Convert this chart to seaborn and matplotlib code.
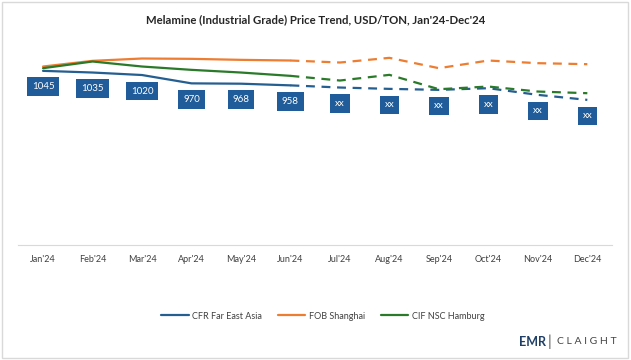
import pandas as pd
import seaborn as sns
import matplotlib.pyplot as plt
from matplotlib.patches import Rectangle

# Dados
months = ["Jan'24", "Feb'24", "Mar'24", "Apr'24", "May'24", "Jun'24",
          "Jul'24", "Aug'24", "Sep'24", "Oct'24", "Nov'24", "Dec'24"]
cfr_far_east = [1045, 1035, 1020, 970, 968, 958, 945, 937, 931, 941, 901, 871]
fob_shanghai = [1071, 1105, 1119, 1117, 1111, 1107, 1095, 1123, 1061, 1107, 1091, 1085]
cif_hamburg = [1061, 1101, 1071, 1051, 1035, 1015, 987, 1021, 935, 951, 921, 911]
point_labels = ["1045", "1035", "1020", "970", "968", "958", "xx", "xx", "xx", "xx", "xx", "xx"]
n_actual = 6

series = {
    "CFR Far East Asia": cfr_far_east,
    "FOB Shanghai": fob_shanghai,
    "CIF NSC Hamburg": cif_hamburg,
}
colors = {"CFR Far East Asia": "#255e91", "FOB Shanghai": "#ed7d31", "CIF NSC Hamburg": "#2a7a2a"}

rows = []
for name, vals in series.items():
    for i, v in enumerate(vals):
        rows.append({"serie": name, "x": i, "valor": v})
df = pd.DataFrame(rows)

sns.set_style("white")
plt.rcParams['font.family'] = ['Lato', 'DejaVu Sans']

fig = plt.figure(figsize=(6.31, 3.6), dpi=100)
ax = fig.add_axes([0.029, 0.319, 0.941, 0.556])

real = df[df["x"] <= n_actual - 1]
prev = df[df["x"] >= n_actual - 1]
sns.lineplot(data=real, x="x", y="valor", hue="serie", palette=colors, lw=1.6, ax=ax)
sns.lineplot(data=prev, x="x", y="valor", hue="serie", palette=colors, lw=1.6,
             ax=ax, legend=False, dashes=False, linestyle=(0, (4, 3)))

# Rótulos dos pontos
for i, (v, lab) in enumerate(zip(cfr_far_east, point_labels)):
    ax.annotate(lab, (i, v), xytext=(0, -16), textcoords="offset pixels",
                ha="center", va="center", color="white", fontsize=7,
                bbox=dict(boxstyle="square,pad=0.5", fc="#1f5c99", ec="none"))

ax.set_xlim(-0.5, len(months) - 0.5)
ax.set_ylim(0, 1200)
ax.set_xticks(range(len(months)))
ax.set_xticklabels(months, fontsize=6.5, color="#404040")
ax.set_xticks([i + 0.5 for i in range(-1, len(months))], minor=True)
ax.tick_params(axis="x", which="major", length=0, pad=7)
ax.tick_params(axis="x", which="minor", length=4, color="#d9d9d9", direction="inout")
ax.set_yticks([])
ax.set_xlabel("")
ax.set_ylabel("")
for s in ["top", "left", "right"]:
    ax.spines[s].set_visible(False)
ax.spines["bottom"].set_color("#d9d9d9")

handles, labels = ax.get_legend_handles_labels()
ax.legend(handles, labels, loc="center", bbox_to_anchor=(0.512, 0.122), bbox_transform=fig.transFigure,
          ncol=3, frameon=False, fontsize=6.5, handlelength=3.0, columnspacing=1.8, handletextpad=0.4,
          labelcolor="#404040")

fig.text(0.5, 0.945, "Melamine (Industrial Grade) Price Trend, USD/TON, Jan'24-Dec'24",
         ha="center", va="center", fontsize=8.2, fontweight="bold", color="#262626")

# Logo
fig.text(0.865, 0.05, "EMR", ha="right", va="center", fontsize=9, fontweight="bold", color="#1f3f66")
fig.text(0.868, 0.05, "|", ha="left", va="center", fontsize=11, color="#555555")
fig.text(0.882, 0.05, "C L A I G H T", ha="left", va="center", fontsize=7.5, color="#444444")

fig.patches.append(Rectangle((0.003, 0.005), 0.992, 0.99, transform=fig.transFigure,
                             fill=False, ec="#d9d9d9", lw=1))

fig.savefig("out.png", dpi=100)
